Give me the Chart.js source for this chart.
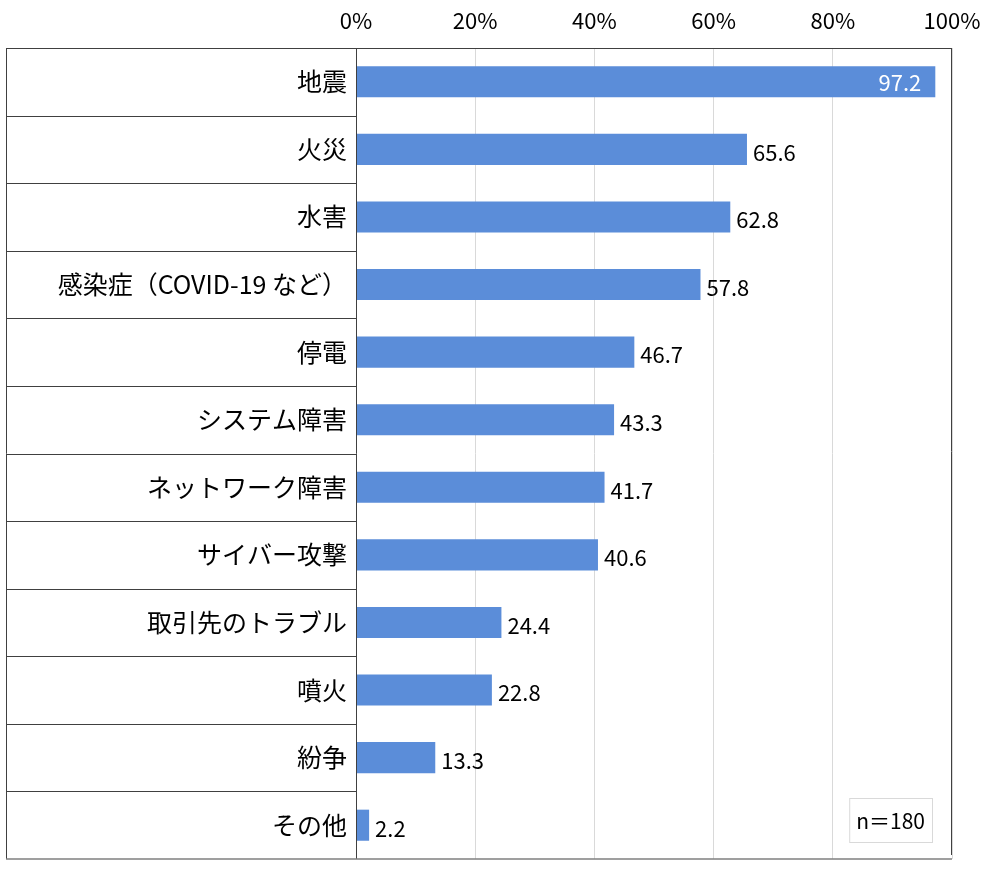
<!DOCTYPE html>
<html>
<head>
<meta charset="utf-8">
<script src="https://cdn.jsdelivr.net/npm/chart.js@4"></script>
<style>
  body { margin: 0; background: #fff; }
  #wrap { width: 1000px; height: 884px; }
</style>
</head>
<body>
<div id="wrap"><canvas id="myChart" width="1000" height="884"></canvas></div>
<script>
const categories = ["地震", "火災", "水害", "感染症（COVID-19 など）", "停電", "システム障害",
  "ネットワーク障害", "サイバー攻撃", "取引先のトラブル", "噴火", "紛争", "その他"];
const values = [97.2, 65.6, 62.8, 57.8, 46.7, 43.3, 41.7, 40.6, 24.4, 22.8, 13.3, 2.2];
const xTicks = [0, 20, 40, 60, 80, 100];
const sampleNote = "n＝180";

const FONT = "'Noto Sans CJK JP', 'Noto Sans', sans-serif";

// table lines on the left, plot frame, value labels and the n box
const tablePlugin = {
  id: "tableLines",
  afterDraw(chart) {
    const c = chart.ctx;
    const area = chart.chartArea;
    const y = chart.scales.y;
    const tableLeft = y.left;
    c.save();
    c.lineWidth = 1;
    c.strokeStyle = "#404040";
    // row separators
    for (let i = 1; i < categories.length; i++) {
      const yy = Math.round((y.getPixelForValue(i - 1) + y.getPixelForValue(i)) / 2) + 0.5;
      c.beginPath();
      c.moveTo(tableLeft, yy);
      c.lineTo(area.left, yy);
      c.stroke();
    }
    // outer frame
    c.beginPath();
    c.moveTo(tableLeft + 0.5, area.top);
    c.lineTo(tableLeft + 0.5, area.bottom);
    c.moveTo(tableLeft, area.top + 0.5);
    c.lineTo(area.right, area.top + 0.5);
    c.moveTo(area.left + 0.5, area.top);
    c.lineTo(area.left + 0.5, area.bottom);
    c.moveTo(area.right - 0.5, area.top);
    c.lineTo(area.right - 0.5, area.bottom - 4);
    c.stroke();
    c.strokeStyle = "#7f7f7f";
    c.lineWidth = 1.5;
    c.beginPath();
    c.moveTo(tableLeft, area.bottom);
    c.lineTo(area.right, area.bottom);
    c.stroke();

    // value labels
    const meta = chart.getDatasetMeta(0);
    c.font = "22px " + FONT;
    c.textBaseline = "middle";
    meta.data.forEach((bar, i) => {
      const txt = values[i].toFixed(1);
      if (values[i] > 90) {
        c.fillStyle = "#ffffff";
        c.textAlign = "right";
        c.fillText(txt, bar.x - 14, bar.y + 1);
      } else {
        c.fillStyle = "#000000";
        c.textAlign = "left";
        c.fillText(txt, bar.x + 6, bar.y + 3);
      }
    });

    // n box
    c.font = "21px " + FONT;
    const tw = c.measureText(sampleNote).width;
    const bx = area.right - 20 - tw - 14;
    const by = area.bottom - 61;
    c.strokeStyle = "#d9d9d9";
    c.lineWidth = 1;
    c.strokeRect(bx + 0.5, by + 0.5, tw + 14, 44);
    c.fillStyle = "#000";
    c.textAlign = "left";
    c.fillText(sampleNote, bx + 7, by + 23);
    c.restore();
  }
};

const data = {
  labels: categories,
  datasets: [
    {
      data: values,
      backgroundColor: "#5b8dd9",
      borderWidth: 0,
      categoryPercentage: 1,
      barPercentage: 0.46,
    },
  ],
};

const config = {
  type: "bar",
  data: data,
  plugins: [tablePlugin],
  options: {
    indexAxis: "y",
    responsive: false,
    animation: false,
    layout: {
      padding: { left: 6, right: 48, top: 0, bottom: 25 },
    },
    scales: {
      x: {
        position: "top",
        min: 0,
        max: 100,
        afterBuildTicks: (scale) => {
          scale.ticks = xTicks.map((v) => ({ value: v }));
        },
        afterFit: (scale) => {
          scale.height = 48;
        },
        grid: {
          color: "#d9d9d9",
          drawTicks: false,
        },
        border: { display: false },
        ticks: {
          padding: 14,
          color: "#000",
          font: { family: FONT, size: 22 },
          callback: (value) => value + "%",
        },
      },
      y: {
        afterFit: (scale) => {
          scale.width = 350;
        },
        grid: { display: false, drawTicks: false },
        border: { display: false },
        ticks: {
          padding: 9,
          color: "#000",
          font: { family: FONT, size: 25 },
        },
      },
    },
    plugins: {
      legend: { display: false },
      title: { display: false },
      tooltip: { enabled: false },
    },
  },
};

const ctx = document.getElementById("myChart").getContext("2d");
new Chart(ctx, config);
</script>
</body>
</html>
